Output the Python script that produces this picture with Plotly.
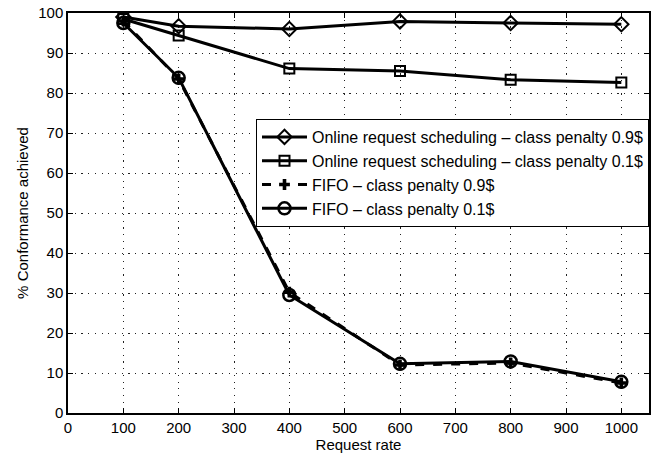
import plotly.graph_objects as go

request_rate = [100, 200, 400, 600, 800, 1000]
online_09 = [99.0, 96.7, 96.0, 97.9, 97.5, 97.2]
online_01 = [98.5, 94.4, 86.1, 85.5, 83.3, 82.6]
fifo_09 = [98.0, 83.5, 30.2, 12.0, 12.5, 7.5]
fifo_01 = [97.5, 83.8, 29.5, 12.3, 12.9, 7.8]

x_ticks = list(range(0, 1001, 100))
y_ticks = list(range(0, 101, 10))

font_family = "Liberation Sans, Arial, sans-serif"

fig = go.Figure()
fig.add_trace(go.Scatter(
    x=request_rate, y=online_09, mode="lines+markers",
    name="Online request scheduling \u2013 class penalty 0.9$",
    line=dict(color="black", width=3),
    marker=dict(symbol="diamond-open", size=11, color="black", line=dict(width=2, color="black")),
))
fig.add_trace(go.Scatter(
    x=request_rate, y=online_01, mode="lines+markers",
    name="Online request scheduling \u2013 class penalty 0.1$",
    line=dict(color="black", width=3),
    marker=dict(symbol="square-open", size=10, color="black", line=dict(width=2, color="black")),
))
fig.add_trace(go.Scatter(
    x=request_rate, y=fifo_09, mode="lines+markers",
    name="FIFO \u2013 class penalty 0.9$",
    line=dict(color="black", width=3, dash="dash"),
    marker=dict(symbol="cross", size=9, color="black", line=dict(width=0)),
))
fig.add_trace(go.Scatter(
    x=request_rate, y=fifo_01, mode="lines+markers",
    name="FIFO \u2013 class penalty 0.1$",
    line=dict(color="black", width=3),
    marker=dict(symbol="circle-open", size=12, color="black", line=dict(width=2.5, color="black")),
))

axis_common = dict(
    showline=True, linecolor="black", linewidth=1.5, mirror="ticks",
    ticks="inside", ticklen=5, tickcolor="black",
    showgrid=True, gridcolor="#222222", griddash="1.2px,5.5px", gridwidth=1.2,
    zeroline=False,
    tickfont=dict(size=15, color="black", family=font_family),
)

fig.update_xaxes(
    range=[0, 1050], tickvals=x_ticks, ticktext=[str(v) for v in x_ticks],
    title=dict(text="Request rate", font=dict(size=15, color="black", family=font_family), standoff=2),
    **axis_common,
)
fig.update_yaxes(
    range=[0, 100], tickvals=y_ticks, ticktext=[str(v) for v in y_ticks],
    title=dict(text="% Conformance achieved", font=dict(size=15, color="black", family=font_family), standoff=6),
    **axis_common,
)

fig.update_layout(
    width=655, height=456,
    margin=dict(l=68, r=4, t=11, b=43),
    plot_bgcolor="white", paper_bgcolor="white",
    font=dict(family=font_family, color="black"),
    showlegend=True,
    legend=dict(
        x=1, y=0.735, xanchor="right", yanchor="top",
        bgcolor="white", bordercolor="black", borderwidth=1,
        font=dict(size=16, color="black", family=font_family),
        tracegroupgap=0, itemwidth=45,
    ),
)

fig.write_html("out.html")
